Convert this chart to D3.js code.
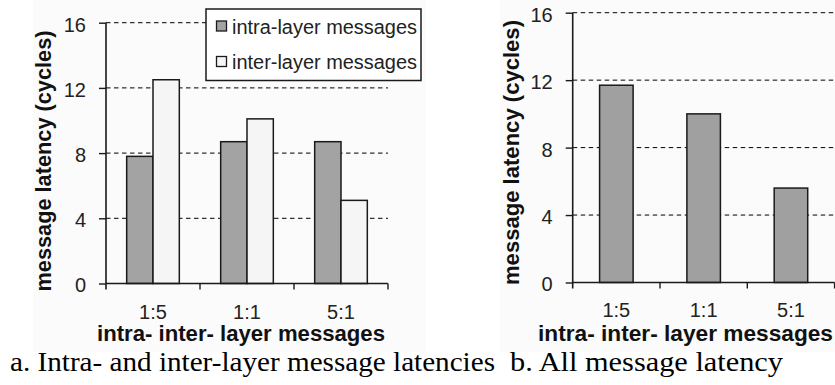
<!DOCTYPE html>
<html>
<head>
<meta charset="utf-8">
<script src="https://cdn.jsdelivr.net/npm/d3@7/dist/d3.min.js"></script>
<style>
  html, body { margin: 0; padding: 0; background: #ffffff; }
  svg { display: block; }
</style>
</head>
<body>
<svg id="chart" width="835" height="385"></svg>
<script>
// ---- data ----
const categories = ["1:5", "1:1", "5:1"];
const seriesNames = ["intra-layer messages", "inter-layer messages"];
const intraLatency = [7.8, 8.7, 8.7];
const interLatency = [12.5, 10.1, 5.1];
const allLatency = [11.7, 10.0, 5.6];
const yTicks = [0, 4, 8, 12, 16];
const yTitle = "message latency (cycles)";
const xTitle = "intra- inter- layer messages";
const captionA = "a. Intra- and inter-layer message latencies";
const captionB = "b. All message latency";

const intraFill = "#a3a3a3";
const interFill = "#f5f5f5";
const ink = "#1a1a1a";
const sans = "'Liberation Sans', Arial, sans-serif";
const serif = "'Liberation Serif', 'Times New Roman', serif";

const svg = d3.select("#chart");

// faint scan background behind the two panels
svg.append("rect").attr("x", 33).attr("y", 0).attr("width", 393).attr("height", 352).attr("fill", "#fbfbfb");
svg.append("rect").attr("x", 500).attr("y", 0).attr("width", 335).attr("height", 352).attr("fill", "#fbfbfb");

function drawPanel(opts) {
  const g = svg.append("g");
  const y = d3.scaleLinear().domain([0, 16]).range([opts.y0, opts.y16]);
  const x = d3.scaleBand().domain(categories).range([opts.xl, opts.xr])
    .paddingInner(opts.pad).paddingOuter(opts.pad / 2);
  const step = x.step();
  const gap = step * opts.pad / 2;

  // gridlines
  g.append("g").selectAll("line").data(yTicks.filter(d => d > 0)).join("line")
    .attr("x1", opts.xl).attr("x2", opts.gridEnd)
    .attr("y1", d => y(d)).attr("y2", d => y(d))
    .attr("stroke", "#000").attr("stroke-width", 1)
    .attr("stroke-dasharray", "4.5,3.5");

  // bars
  opts.drawBars(g, x, y);

  // y axis
  const ya = g.append("g").attr("transform", `translate(${opts.xl},0)`)
    .call(d3.axisLeft(y).tickValues(yTicks).tickSize(7).tickPadding(13).tickFormat(d3.format("d")));
  ya.select(".domain").attr("stroke", ink).attr("stroke-width", 1.6)
    .attr("d", `M0,${opts.y0 + 6}V${opts.y16}`);
  ya.selectAll(".tick line").attr("stroke", ink).attr("stroke-width", 1.4);
  ya.selectAll(".tick text").attr("font-family", sans).attr("font-size", 20)
    .attr("fill", "#222").attr("dy", "0.42em");

  // x axis line + band boundary ticks
  const bounds = categories.map(c => x(c) - gap + step);
  g.append("line").attr("x1", opts.xl).attr("x2", opts.xr)
    .attr("y1", opts.y0).attr("y2", opts.y0).attr("stroke", ink).attr("stroke-width", 1.6);
  g.append("g").selectAll("line").data(bounds).join("line")
    .attr("x1", d => d).attr("x2", d => d)
    .attr("y1", opts.y0).attr("y2", opts.y0 + 6)
    .attr("stroke", ink).attr("stroke-width", 1.4);

  // category labels
  const xa = g.append("g").attr("transform", `translate(0,${opts.y0})`)
    .call(d3.axisBottom(x).tickSize(0).tickPadding(opts.labelPad));
  xa.select(".domain").remove();
  xa.selectAll(".tick text").attr("font-family", sans).attr("font-size", 20).attr("fill", "#222");

  // axis titles
  g.append("text").attr("x", opts.xTitleX).attr("y", 341)
    .attr("text-anchor", "middle").attr("font-family", sans).attr("font-weight", "bold")
    .attr("font-size", 22).attr("fill", "#111")
    .attr("textLength", opts.xTitleLen).attr("lengthAdjust", "spacingAndGlyphs")
    .text(xTitle);
  g.append("text")
    .attr("transform", `translate(${opts.yTitleX},${opts.yTitleY}) rotate(-90)`)
    .attr("text-anchor", "middle").attr("font-family", sans).attr("font-weight", "bold")
    .attr("font-size", 22).attr("fill", "#111")
    .attr("textLength", opts.yTitleLen).attr("lengthAdjust", "spacingAndGlyphs")
    .text(yTitle);
  return { x, y };
}

// ---- panel a ----
drawPanel({
  xl: 106, xr: 388, y0: 283.5, y16: 22.7, pad: 0.44, gridEnd: 388, labelPad: 21,
  xTitleX: 241, xTitleLen: 288, yTitleX: 51, yTitleY: 161, yTitleLen: 261,
  drawBars: (g, x, y) => {
    const x1 = d3.scaleBand().domain([0, 1]).range([0, x.bandwidth()]);
    const rows = categories.map((c, i) => ({ c, vals: [intraLatency[i], interLatency[i]] }));
    const grp = g.append("g").selectAll("g").data(rows).join("g")
      .attr("transform", d => `translate(${x(d.c)},0)`);
    grp.selectAll("rect").data(d => d.vals.map((v, k) => ({ v, k }))).join("rect")
      .attr("x", d => x1(d.k)).attr("width", x1.bandwidth())
      .attr("y", d => y(d.v)).attr("height", d => y(0) - y(d.v))
      .attr("fill", d => d.k === 0 ? intraFill : interFill)
      .attr("stroke", ink).attr("stroke-width", 1.5);
  }
});

// legend (panel a)
const lg = svg.append("g");
lg.append("rect").attr("x", 206).attr("y", 9).attr("width", 215).attr("height", 71.5)
  .attr("fill", "#fff").attr("stroke", ink).attr("stroke-width", 1.5);
seriesNames.forEach((name, i) => {
  const cy = 26.5 + i * 35.5;
  lg.append("rect").attr("x", 216.5).attr("y", cy - 5.5).attr("width", 10).attr("height", 10)
    .attr("fill", i === 0 ? intraFill : interFill).attr("stroke", ink).attr("stroke-width", 1.3);
  lg.append("text").attr("x", 232).attr("y", cy + 7)
    .attr("font-family", sans).attr("font-size", 20).attr("fill", "#222")
    .attr("textLength", 185).attr("lengthAdjust", "spacingAndGlyphs")
    .text(name);
});

// ---- panel b ----
drawPanel({
  xl: 572.7, xr: 834.6, y0: 282.5, y16: 12.7, pad: 0.616, gridEnd: 835, labelPad: 20,
  xTitleX: 685.5, xTitleLen: 295, yTitleX: 519, yTitleY: 152.5, yTitleLen: 265,
  drawBars: (g, x, y) => {
    g.append("g").selectAll("rect").data(categories.map((c, i) => ({ c, v: allLatency[i] }))).join("rect")
      .attr("x", d => x(d.c)).attr("width", x.bandwidth())
      .attr("y", d => y(d.v)).attr("height", d => y(0) - y(d.v))
      .attr("fill", "#a0a0a0").attr("stroke", ink).attr("stroke-width", 1.5);
  }
});

// ---- captions ----
svg.append("text").attr("x", 10).attr("y", 371)
  .attr("font-family", serif).attr("font-size", 27).attr("fill", "#000")
  .attr("textLength", 485).attr("lengthAdjust", "spacingAndGlyphs")
  .text(captionA);
svg.append("text").attr("x", 510).attr("y", 371)
  .attr("font-family", serif).attr("font-size", 27).attr("fill", "#000")
  .attr("textLength", 273).attr("lengthAdjust", "spacingAndGlyphs")
  .text(captionB);
</script>
</body>
</html>
